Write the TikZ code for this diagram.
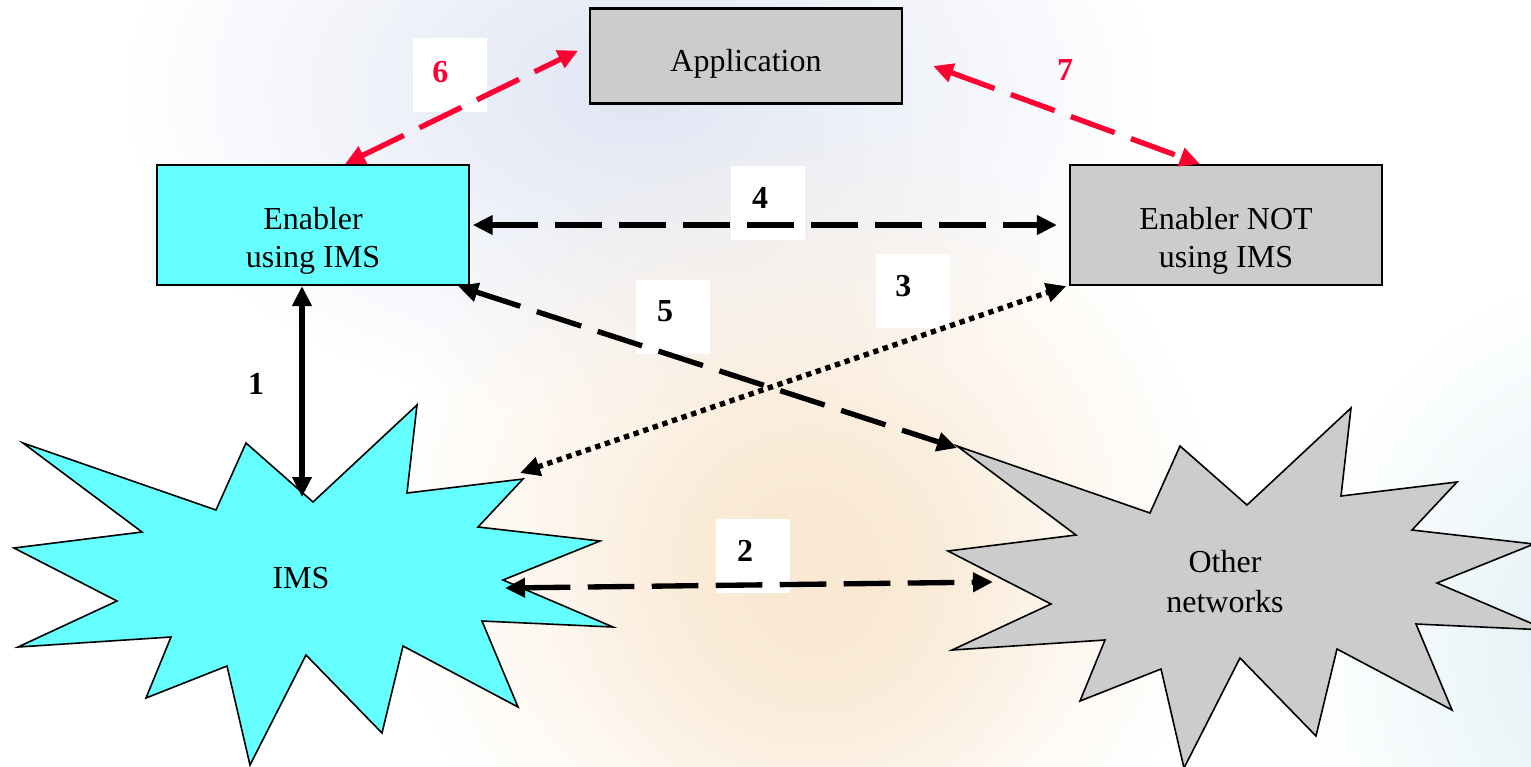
\documentclass[tikz,border=0pt]{standalone}
\usepackage{fontspec}
\setmainfont{Liberation Serif}
\usetikzlibrary{arrows.meta,fadings}
\definecolor{imscyan}{RGB}{102,255,255}
\definecolor{boxgray}{RGB}{204,204,204}
\definecolor{linkred}{RGB}{255,0,51}
\definecolor{hazeblue}{RGB}{224,229,243}
\definecolor{hazepeach}{RGB}{249,232,210}
\definecolor{hazecyan}{RGB}{224,240,245}
\tikzfading[name=softspot, inner color=transparent!0, outer color=transparent!100]
% outline of the IMS burst, in pixels of the reference
\newcommand{\burst}{(23,443) -- (216,510) -- (246,443) -- (313,502) -- (417,405) -- (407,493)
  -- (523,479) -- (478,527) -- (600,541) -- (503,580) -- (613,627) -- (482,621)
  -- (518,707) -- (403,646) -- (382,733) -- (306,655) -- (250,765) -- (227,666)
  -- (146,698) -- (171,637) -- (18,647) -- (117,601) -- (14,548) -- (142,532) -- cycle}
\newcommand{\boxtext}[2]{\raisebox{#1}[\height][\depth]{\begin{tabular}{@{}c@{}}#2\end{tabular}}}

\begin{document}
\begin{tikzpicture}[x=0.375pt, y=-0.375pt,
    box/.style={draw, line width=0.8pt, minimum width=117pt, minimum height=45pt,
      inner sep=0pt, font=\fontsize{12}{14.3}\selectfont},
    burstline/.style={draw, line width=0.6pt, line join=miter},
    numbox/.style={fill=white, minimum width=27.4pt, minimum height=27.4pt, inner sep=0pt},
    numlbl/.style={font=\fontsize{12}{14}\selectfont\bfseries},
    link/.style={line width=2pt, {Triangle[length=7.5pt,width=7pt]}-{Triangle[length=7.5pt,width=7pt]}},
    linkdash/.style={dash pattern=on 17.5pt off 6.5pt},
    linkdot/.style={dash pattern=on 2pt off 1.8pt}]

  \useasboundingbox (0,0) rectangle (1531,766);

  % background haze
  \fill[hazeblue, path fading=softspot] (640,90) ellipse [x radius=520, y radius=330];
  \fill[hazepeach, path fading=softspot] (800,540) ellipse [x radius=420, y radius=420];
  \fill[hazepeach, path fading=softspot] (820,600) ellipse [x radius=250, y radius=250];
  \fill[hazecyan, path fading=softspot] (1600,650) ellipse [x radius=300, y radius=380];

  % bursts
  \draw[burstline, fill=imscyan] \burst;
  \draw[burstline, fill=boxgray, shift={(934,3)}] \burst;
  \node[font=\fontsize{12}{14}\selectfont] (ims) at (301,578) {IMS};
  \node[font=\fontsize{12}{15}\selectfont, align=center] (oth) at (1225,582) {Other\\networks};
  \coordinate (ims-n) at (302,497);
  \coordinate (ims-e) at (505,588);
  \coordinate (ims-ne) at (520,473);
  \coordinate (oth-w) at (993,582);
  \coordinate (oth-nw) at (957,448);

  % boxes
  \node[box, fill=boxgray, minimum height=35.6pt] (app) at (746,56) {\boxtext{-3pt}{Application}};
  \node[box, fill=imscyan] (en) at (313,225) {\boxtext{-6pt}{Enabler\\using IMS}};
  \node[box, fill=boxgray] (enn) at (1226,225) {\boxtext{-6pt}{Enabler NOT\\using IMS}};

  % number labels
  \node[numbox, label={[numlbl, linkred, xshift=-3.6pt, yshift=1.2pt]center:6}] (n6) at (450,75) {};
  \node[numlbl, linkred] (n7) at (1065,70) {7};
  \node[numbox, label={[numlbl, xshift=-3pt, yshift=2pt]center:4}] (n4) at (768,203) {};
  \node[numbox, label={[numlbl, xshift=-3pt, yshift=2.2pt]center:5}] (n5) at (673,317) {};
  \node[numbox, label={[numlbl, xshift=-3.6pt, yshift=1.9pt]center:3}] (n3) at (913,291) {};
  \node[numlbl] (n1) at (256,384) {1};
  \node[numbox, label={[numlbl, xshift=-3pt, yshift=1.9pt]center:2}] (n2) at (753,556) {};

  % links
  \draw[link] (ims-n) -- (ims-n |- en.south); %% 1
  \draw[link, linkdash] (ims-e) -- (oth-w); %% 2
  \draw[link, linkdot] (ims-ne) -- ([xshift=-1pt]enn.south west); %% 3
  \draw[link, linkdash, shorten <=1pt, shorten >=4.5pt] (en.east) -- (enn.west); %% 4
  \draw[link, linkdash] ([xshift=-4.5pt]en.south east) -- (oth-nw); %% 5
  \draw[link, linkdash, linkred, shorten >=4.5pt] ([xshift=12pt]en.north) -- ([yshift=4pt]app.west); %% 6
  \draw[link, linkdash, linkred, shorten <=12pt] ([yshift=0.4pt]app.east) -- ([xshift=-9.8pt]enn.north); %% 7
\end{tikzpicture}
\end{document}
